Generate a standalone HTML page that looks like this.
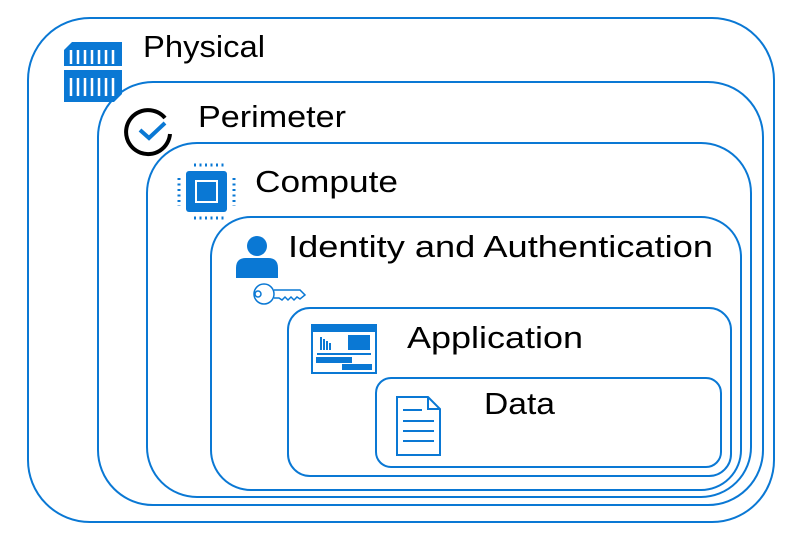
<!DOCTYPE html>
<html><head><meta charset="utf-8"><style>
body{margin:0;background:#fff;width:787px;height:532px;overflow:hidden}
svg text{font-family:"Liberation Sans",sans-serif;font-size:31px;fill:#000}
</style></head><body>
<svg width="787" height="532" viewBox="0 0 787 532">
<g fill="none" stroke="#0a78d4" stroke-width="2">
<rect x="28" y="18" width="746" height="504" rx="62"/>
<rect x="98" y="82" width="665" height="423" rx="55"/>
<rect x="147" y="143" width="604" height="354" rx="50"/>
<rect x="211" y="217" width="530" height="273" rx="40"/>
<rect x="288" y="308" width="443" height="168" rx="22"/>
<rect x="376" y="378" width="345" height="89" rx="15"/>
</g>
<g lengthAdjust="spacingAndGlyphs">
<text x="143" y="57" textLength="122" lengthAdjust="spacingAndGlyphs">Physical</text>
<text x="198" y="127" textLength="148" lengthAdjust="spacingAndGlyphs">Perimeter</text>
<text x="255" y="192" textLength="143" lengthAdjust="spacingAndGlyphs">Compute</text>
<text x="288" y="257" textLength="425" lengthAdjust="spacingAndGlyphs">Identity and Authentication</text>
<text x="407" y="348" textLength="176" lengthAdjust="spacingAndGlyphs">Application</text>
<text x="484" y="414" textLength="71" lengthAdjust="spacingAndGlyphs">Data</text>
</g>
<!-- physical icon -->
<g fill="#0a78d4">
<path d="M72 42 H122 V66 H64 V50 Z"/>
<path d="M64 70 H122 V94 L114 102 H64 Z"/>
</g>
<g stroke="#fff" stroke-width="2.5">
<path d="M71 50V64M78 50V64M85 50V64M92 50V64M99 50V64M106 50V64M113 50V64"/>
<path d="M71 78V96M78 78V96M85 78V96M92 78V96M99 78V96M106 78V96M113 78V96"/>
</g>
<!-- perimeter -->
<path d="M165 118 A22 22 0 1 0 170 134" fill="none" stroke="#000" stroke-width="4"/>
<path d="M140 130 L149 138 L165 123" fill="none" stroke="#0a78d4" stroke-width="4"/>
<!-- compute -->
<rect x="186" y="171" width="41" height="41" rx="3" fill="#0a78d4"/>
<rect x="196" y="181" width="21" height="21" fill="#0a78d4" stroke="#fff" stroke-width="2"/>
<g stroke="#0a78d4" stroke-width="3" stroke-dasharray="2 3.5">
<path d="M194 165H224M194 218H224M179 178V206M234 178V206"/>
</g>
<!-- person -->
<circle cx="257" cy="246" r="10" fill="#0a78d4"/>
<path d="M236 278 V268 Q236 258 246 258 H268 Q278 258 278 268 V278 Z" fill="#0a78d4"/>
<!-- key -->
<g fill="none" stroke="#0a78d4" stroke-width="1.5">
<circle cx="264" cy="294" r="10"/><circle cx="258" cy="294" r="3"/>
<path d="M274 290 H300 L305 295 L300 299 L297 297 L294 300 L291 297 L288 300 L285 297 L282 300 L279 298 H274"/>
</g>
<!-- app window -->
<rect x="312" y="325" width="64" height="48" fill="#fff" stroke="#0a78d4" stroke-width="2"/>
<rect x="312" y="325" width="64" height="7" fill="#0a78d4"/>
<rect x="348" y="335" width="22" height="15" fill="#0a78d4"/>
<g stroke="#0a78d4" stroke-width="2"><path d="M321 337V350M324 339V350M327 341V350M330 343V350"/><path d="M317 354H371"/></g>
<g fill="#0a78d4"><rect x="316" y="357" width="36" height="6"/><rect x="342" y="364" width="30" height="6"/></g>
<!-- document -->
<path d="M397 397 H428 L440 409 V455 H397 Z" fill="#fff" stroke="#0a78d4" stroke-width="2"/>
<path d="M428 397 V409 H440" fill="none" stroke="#0a78d4" stroke-width="2"/>
<g stroke="#0a78d4" stroke-width="2"><path d="M403 410H422M403 421H434M403 431H434M403 441H434"/></g>
</svg>
</body></html>
